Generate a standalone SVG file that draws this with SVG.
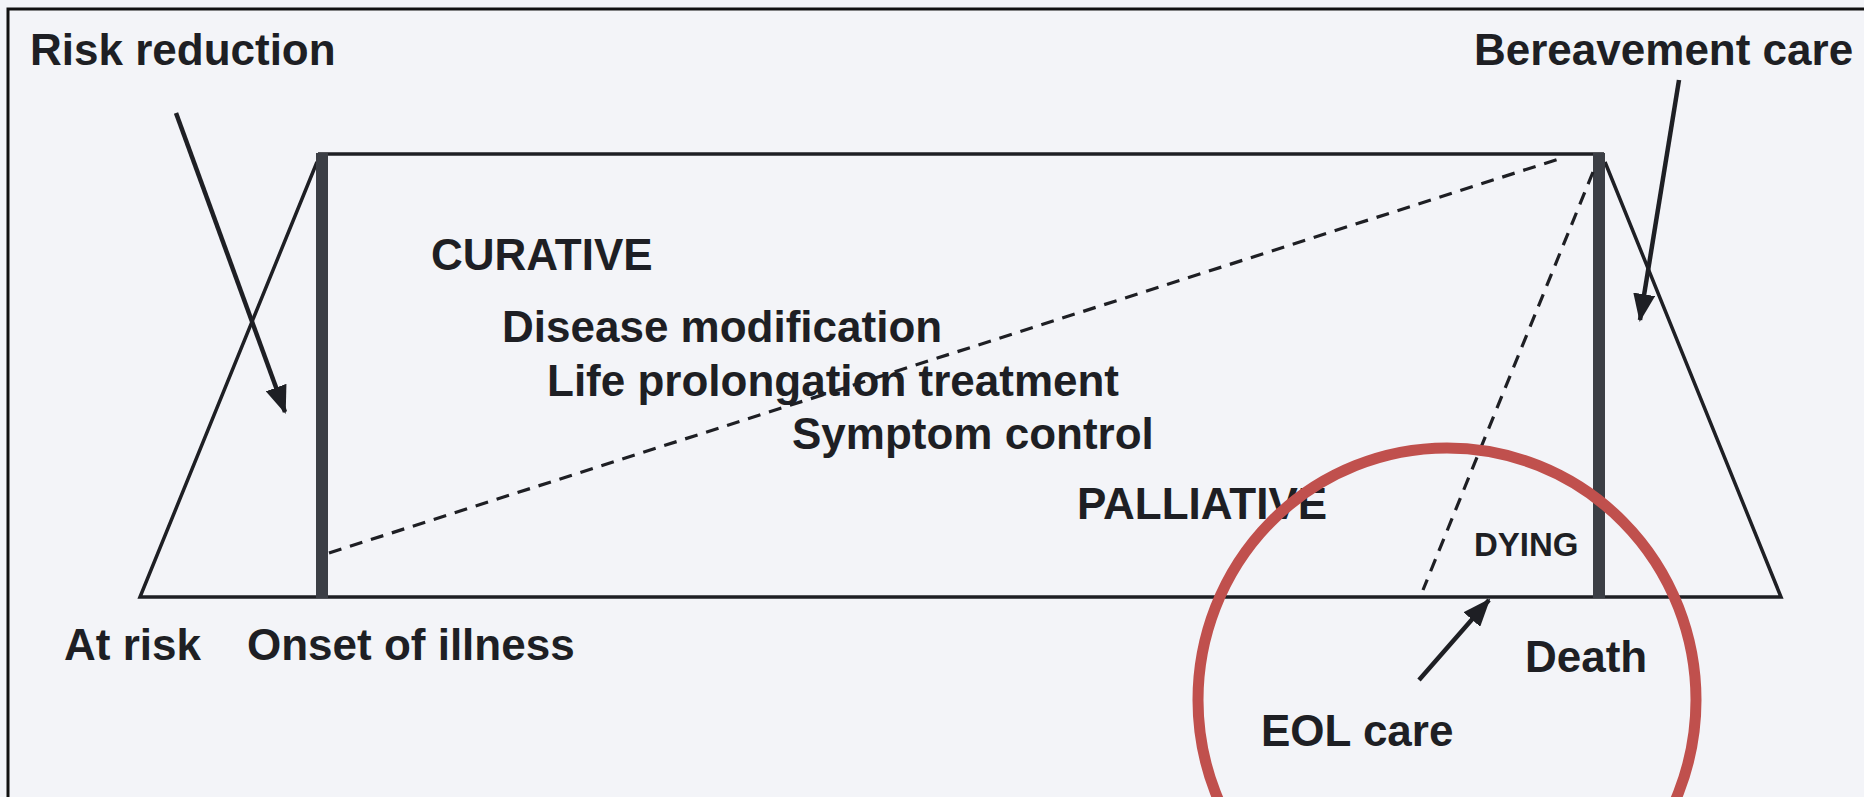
<svg xmlns="http://www.w3.org/2000/svg" width="1864" height="797" viewBox="0 0 1864 797">
<defs>
<style>
.t{font-family:"Liberation Sans",Arial,sans-serif;font-weight:bold;font-size:44px;fill:#1e1f24}
.thin{fill:none;stroke:#1e1f24;stroke-width:3.5;stroke-linejoin:miter}
.bar{stroke:#3b3e45;stroke-width:12}
.dash{fill:none;stroke:#1e1f24;stroke-width:3.2;stroke-dasharray:13 9}
.arr{fill:none;stroke:#1e1f24;stroke-width:4.5;marker-end:url(#ah)}
</style>
<marker id="ah" viewBox="0 0 28 22" refX="26" refY="11" markerWidth="28" markerHeight="22" markerUnits="userSpaceOnUse" orient="auto">
<path d="M0,0 L28,11 L0,22 z" fill="#1e1f24"/>
</marker>
</defs>
<rect width="1864" height="797" fill="#f3f4f8"/>
<path d="M8,797 V9 H1864" fill="none" stroke="#111" stroke-width="3"/>
<g id="shape">
<path class="thin" d="M317,162 L140,597 L1781,597 L1605,162"/>
<path class="thin" d="M318,154 H1604"/>
<line class="bar" x1="322" y1="153" x2="322" y2="598"/>
<line class="bar" x1="1599" y1="153" x2="1599" y2="598"/>
</g>
<g id="connectors">
<line class="dash" x1="329" y1="553" x2="1565" y2="157"/>
<line class="dash" x1="1593" y1="172" x2="1423" y2="590"/>
<line class="arr" x1="176" y1="113" x2="285" y2="412"/>
<line class="arr" x1="1679" y1="80" x2="1640" y2="320"/>
<line class="arr" x1="1419" y1="680" x2="1489" y2="600"/>
</g>
<g id="labels">
<text class="t" x="30" y="65">Risk reduction</text>
<text class="t" x="1474" y="65">Bereavement care</text>
<text class="t" x="431" y="270">CURATIVE</text>
<text class="t" x="502" y="342">Disease modification</text>
<text class="t" x="547" y="396">Life prolongation treatment</text>
<text class="t" x="792" y="449">Symptom control</text>
<text class="t" x="1077" y="519">PALLIATIVE</text>
<text class="t" x="1474" y="556" style="font-size:33px">DYING</text>
<text class="t" x="64" y="660">At risk</text>
<text class="t" x="247" y="660">Onset of illness</text>
<text class="t" x="1525" y="672">Death</text>
<text class="t" x="1261" y="746">EOL care</text>
</g>
<g id="highlight">
<ellipse cx="1447" cy="700" rx="249" ry="252" fill="none" stroke="#c0504d" stroke-width="11"/>
</g>
</svg>
